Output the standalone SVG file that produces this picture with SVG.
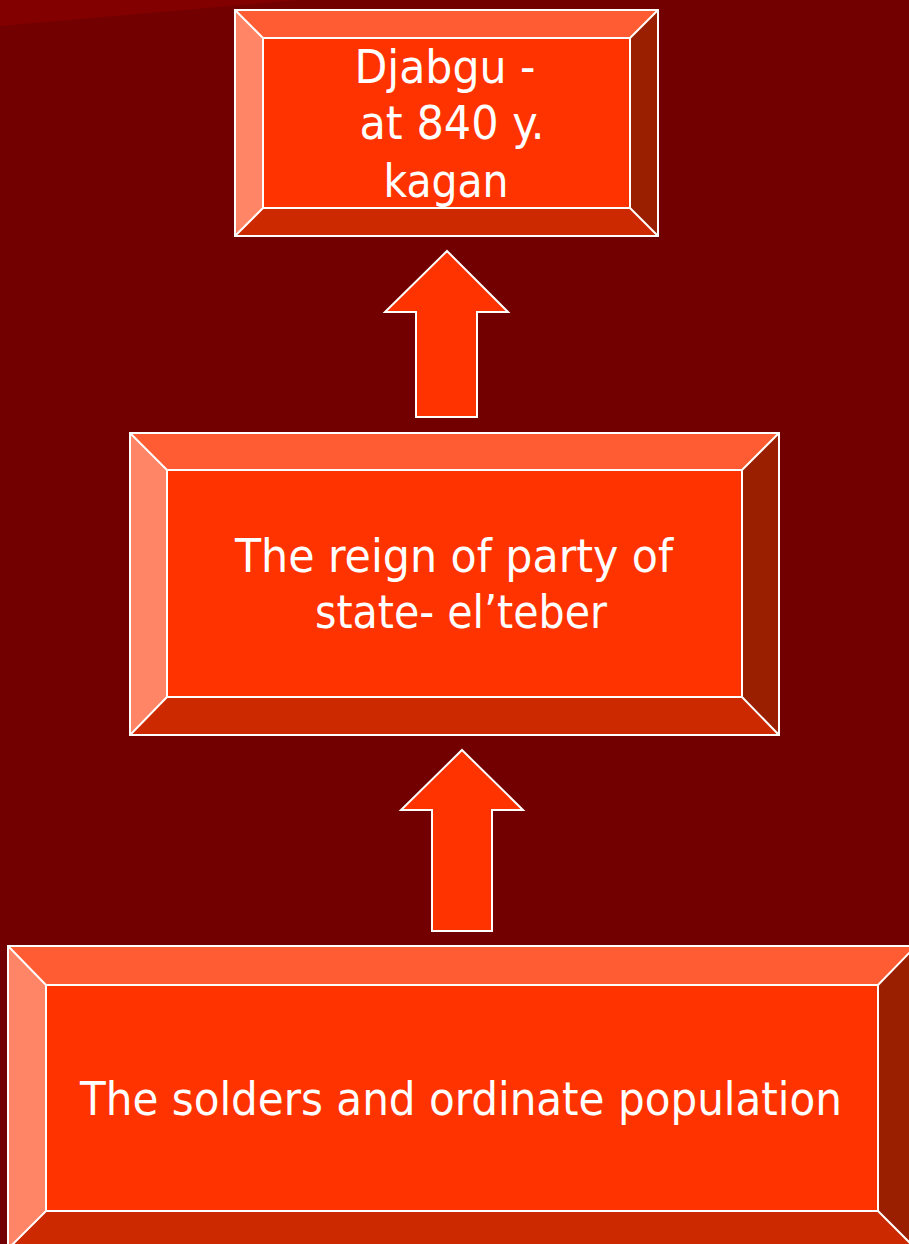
<svg xmlns="http://www.w3.org/2000/svg" width="909" height="1244" viewBox="0 0 909 1244">
<style>
.top{fill:#FF5C33}.left{fill:#FF8566}.right{fill:#991F00}.bot{fill:#CC2900}.face{fill:#FF3300}
.ln{stroke:#FFFFFF;stroke-width:2;fill:none}
.arrow{fill:#FF3300;stroke:#FFFFFF;stroke-width:2}
text{font-family:"DejaVu Sans Condensed","DejaVu Sans",sans-serif;font-size:46px;fill:#FFFFFF}
</style>
<rect x="0" y="0" width="909" height="1244" fill="#720000"/>
<polygon points="0,0 300,0 0,26" fill="#820000"/>
<g id="node-top">
<polygon class="top" points="235,10 658,10 630,38 263,38"/>
<polygon class="left" points="235,10 263,38 263,208 235,236"/>
<polygon class="right" points="658,10 658,236 630,208 630,38"/>
<polygon class="bot" points="235,236 263,208 630,208 658,236"/>
<rect class="face" x="263" y="38" width="367" height="170"/>
<rect class="ln" x="235" y="10" width="423" height="226"/>
<rect class="ln" x="263" y="38" width="367" height="170"/>
<path class="ln" d="M235,10 L263,38 M658,10 L630,38 M235,236 L263,208 M658,236 L630,208"/>
<text x="445" y="83" text-anchor="middle" textLength="181" lengthAdjust="spacingAndGlyphs">Djabgu -</text>
<text x="452" y="139" text-anchor="middle" textLength="185" lengthAdjust="spacingAndGlyphs">at 840 y.</text>
<text x="446" y="197" text-anchor="middle" textLength="125" lengthAdjust="spacingAndGlyphs">kagan</text>
</g>
<g id="node-middle">
<polygon class="top" points="130,433 779,433 742,470 167,470"/>
<polygon class="left" points="130,433 167,470 167,697 130,735"/>
<polygon class="right" points="779,433 779,735 742,697 742,470"/>
<polygon class="bot" points="130,735 167,697 742,697 779,735"/>
<rect class="face" x="167" y="470" width="575" height="227"/>
<rect class="ln" x="130" y="433" width="649" height="302"/>
<rect class="ln" x="167" y="470" width="575" height="227"/>
<path class="ln" d="M130,433 L167,470 M779,433 L742,470 M130,735 L167,697 M779,735 L742,697"/>
<text x="454" y="572" text-anchor="middle" textLength="438" lengthAdjust="spacingAndGlyphs">The reign of party of</text>
<text x="461" y="628" text-anchor="middle" textLength="292" lengthAdjust="spacingAndGlyphs">state- el’teber</text>
</g>
<g id="node-bottom">
<polygon class="top" points="8,946 916,946 878,985 46,985"/>
<polygon class="left" points="8,946 46,985 46,1211 8,1249"/>
<polygon class="right" points="916,946 916,1249 878,1211 878,985"/>
<polygon class="bot" points="8,1249 46,1211 878,1211 916,1249"/>
<rect class="face" x="46" y="985" width="832" height="226"/>
<rect class="ln" x="8" y="946" width="908" height="303"/>
<rect class="ln" x="46" y="985" width="832" height="226"/>
<path class="ln" d="M8,946 L46,985 M916,946 L878,985 M8,1249 L46,1211 M916,1249 L878,1211"/>
<text x="461" y="1115" text-anchor="middle" textLength="762" lengthAdjust="spacingAndGlyphs">The solders and ordinate population</text>
</g>
<g id="connectors">
<polygon class="arrow" points="447,251 508,312 477,312 477,417 416,417 416,312 385,312"/>
<polygon class="arrow" points="462,750 523,810 492,810 492,931 432,931 432,810 401,810"/>
</g>
</svg>
